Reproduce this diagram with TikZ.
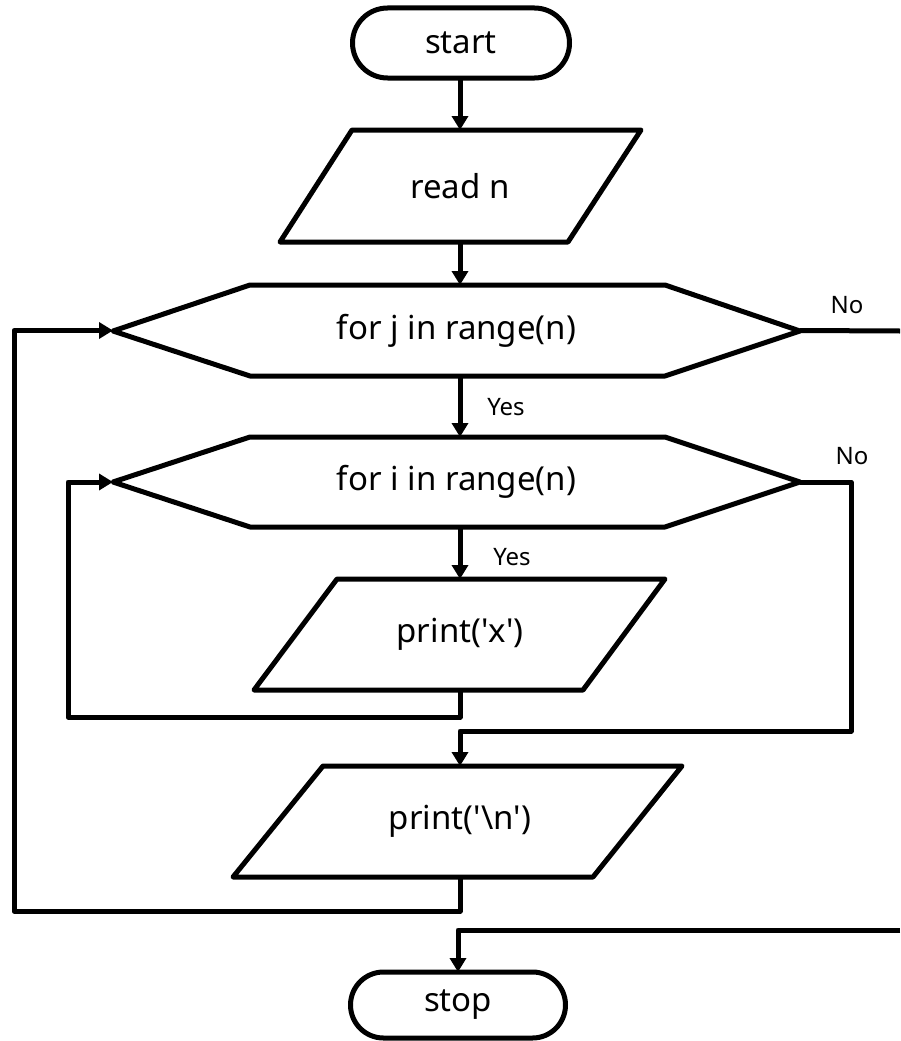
\documentclass[tikz,border=0pt]{standalone}
\usepackage{fontspec}
\setmainfont{Noto Sans}
\usetikzlibrary{arrows.meta,shapes.misc}
\begin{document}
\begin{tikzpicture}[x=1pt,y=-1pt,line width=5pt,line join=round,
  term/.style={rounded rectangle,draw,minimum width=217pt,minimum height=70pt,outer sep=0pt,inner sep=0pt,font=\fontsize{33}{38}\selectfont},
  lbl/.style={inner sep=0pt,outer sep=0pt,font=\fontsize{33}{38}\selectfont},
  small/.style={inner sep=0pt,font=\fontsize{24}{28}\selectfont},
  arr/.style={-{Triangle[length=14pt,width=16pt]}}]
\useasboundingbox (0,0) rectangle (900,1041);
% shapes
\draw (352,130) -- (641,130) -- (568,242) -- (280,242) -- cycle;
\draw (113,331) -- (250,285) -- (665,285) -- (800,331) -- (665,376) -- (250,376) -- cycle;
\draw (113,482) -- (250,437) -- (665,437) -- (800,482) -- (665,527) -- (250,527) -- cycle;
\draw (337,579) -- (665,579) -- (583,690) -- (254,690) -- cycle;
\draw (323,766) -- (682,766) -- (593,877) -- (233,877) -- cycle;
% nodes
\node[term] (start) at (461,43) {start};
\node[lbl,minimum height=112pt] (readn) at (460,186) {read n};
\node[lbl,minimum height=91pt,minimum width=687pt] (forj) at (456.5,330.5) {for j in range(n)};
\node[lbl,minimum height=90pt,minimum width=687pt] (fori) at (456.5,482) {for i in range(n)};
\node[lbl,minimum height=111pt] (printx) at (460,634.5) {print(\textquotesingle x\textquotesingle)};
\node[lbl,minimum height=111pt] (printn) at (460,821.5) {print(\textquotesingle\textbackslash n\textquotesingle)};
\node[term,minimum width=215pt,minimum height=66pt] (stop) at (458,1005) {stop};
% labels
\node[small] (yes1) at (506,407) {Yes};
\node[small] (yes2) at (512,557) {Yes};
\node[small] (no1) at (847,305) {No};
\node[small] (no2) at (852,456) {No};
% coordinates
\coordinate (jno) at (900,331);
\coordinate (jback) at (900,930);
\coordinate (ino) at (851,731);
\coordinate (iloop) at (68,717);
\coordinate (jloop) at (14,911);
% connectors
\draw[arr] (start.south -| readn.north) -- (readn.north);
\draw[arr] (readn.south) -- (readn.south |- forj.north);
\draw[arr] (forj.south -| readn.south) -- (fori.north -| readn.south);
\draw[arr] (fori.south -| readn.south) -- (printx.north);
\draw[arr] (printx.south) |- (iloop) |- (fori.west);
\draw[arr] (fori.east) -| (ino) -| (printn.north);
\draw[arr] (printn.south) |- (jloop) |- (forj.west);
\draw (forj.east) -- (jno);
\draw[arr] (jback) -| (stop.north);
\end{tikzpicture}
\end{document}
